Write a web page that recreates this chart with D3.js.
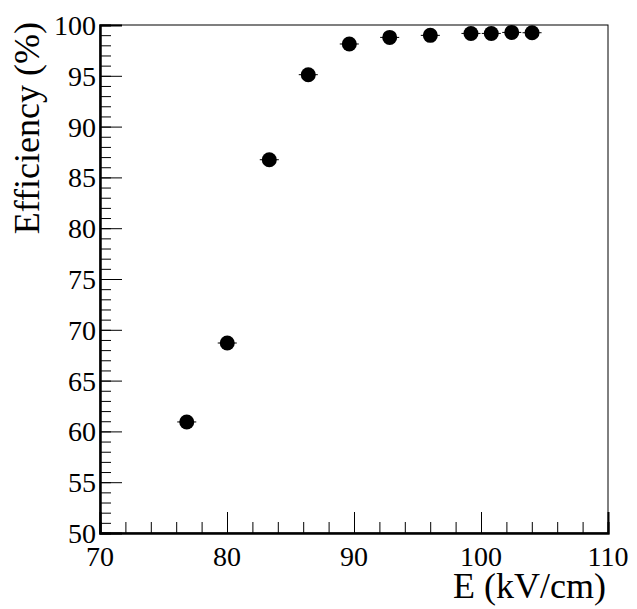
<!DOCTYPE html>
<html>
<head>
<meta charset="utf-8">
<script src="https://cdn.jsdelivr.net/npm/d3@7"></script>
<style>
  html, body { margin: 0; padding: 0; background: #fff; }
  svg { display: block; }
  svg text { font-family: 'Liberation Serif', 'Times New Roman', Times, serif; }
</style>
</head>
<body>
<svg id="chart"></svg>
<script>
// Measured field (kV/cm) and efficiency (%)
const fieldValues = [76.83, 80.02, 83.33, 86.40, 89.63, 92.81, 96.01, 99.21, 100.81, 102.42, 104.02];
const efficiencyValues = [60.93, 68.70, 86.74, 95.11, 98.13, 98.78, 98.98, 99.17, 99.17, 99.27, 99.24];
const fieldErrors = [0.75, 0.75, 0.75, 0.75, 0.75, 0.75, 0.75, 0.75, 0.75, 0.75, 0.75];
const xTickLabels = [70, 80, 90, 100, 110];
const yTickLabels = [50, 55, 60, 65, 70, 75, 80, 85, 90, 95, 100];

const width = 637, height = 609;
const margin = { left: 100, right: 29, top: 25, bottom: 76 };

const svg = d3.select('#chart')
  .attr('width', width)
  .attr('height', height);

const x = d3.scaleLinear().domain([70, 110]).range([margin.left, width - margin.right]);
const y = d3.scaleLinear().domain([50, 100]).range([height - margin.bottom, margin.top]);

// frame (top and right edges)
svg.append('rect')
  .attr('x', x(70))
  .attr('y', y(100))
  .attr('width', x(110) - x(70))
  .attr('height', y(50) - y(100))
  .attr('fill', 'none')
  .attr('stroke', '#000')
  .attr('stroke-width', 1);

// x axis: major ticks every 10, minor every 2, ticks pointing up
const xAxis = svg.append('g')
  .attr('transform', `translate(0,${y(50)})`)
  .call(d3.axisBottom(x).tickValues(d3.range(72, 110, 2)).tickSize(-11).tickFormat(''));
xAxis.append('g')
  .call(d3.axisBottom(x).tickValues(xTickLabels).tickSize(-21).tickFormat(''));
xAxis.selectAll('.domain').attr('stroke', '#000').attr('stroke-width', 2);
xAxis.selectAll('.tick line').attr('stroke', '#000').attr('stroke-width', 1);

svg.append('g')
  .selectAll('text')
  .data(xTickLabels)
  .join('text')
  .attr('x', d => x(d))
  .attr('y', y(50) + 33)
  .attr('text-anchor', 'middle')
  .attr('font-family', 'Liberation Serif')
  .attr('font-size', 28)
  .text(d => d);

// y axis: major ticks every 5, minor every 1, ticks pointing right
const yAxis = svg.append('g')
  .attr('transform', `translate(${x(70)},0)`)
  .call(d3.axisLeft(y).tickValues(d3.range(51, 100, 1)).tickSize(-11).tickFormat(''));
yAxis.append('g')
  .call(d3.axisLeft(y).tickValues(yTickLabels).tickSize(-22).tickFormat(''));
yAxis.selectAll('.domain').attr('stroke', '#000').attr('stroke-width', 2);
yAxis.selectAll('.tick line').attr('stroke', '#000').attr('stroke-width', 1);

svg.append('g')
  .selectAll('text')
  .data(yTickLabels)
  .join('text')
  .attr('x', x(70) - 4)
  .attr('y', d => y(d) + 10)
  .attr('text-anchor', 'end')
  .attr('font-family', 'Liberation Serif')
  .attr('font-size', 28)
  .text(d => d);

// axis titles
svg.append('text')
  .attr('x', 606)
  .attr('y', 598)
  .attr('text-anchor', 'end')
  .attr('font-family', 'Liberation Serif')
  .attr('font-size', 36)
  .text('E (kV/cm)');

svg.append('text')
  .attr('transform', `translate(39,22) rotate(-90)`)
  .attr('text-anchor', 'end')
  .attr('font-family', 'Liberation Serif')
  .attr('font-size', 36)
  .text('Efficiency (%)');

// data points with horizontal error bars
const points = fieldValues.map((v, i) => ({ e: v, eff: efficiencyValues[i], err: fieldErrors[i] }));

svg.append('g')
  .selectAll('line')
  .data(points)
  .join('line')
  .attr('x1', d => x(d.e - d.err))
  .attr('x2', d => x(d.e + d.err))
  .attr('y1', d => y(d.eff))
  .attr('y2', d => y(d.eff))
  .attr('stroke', '#000')
  .attr('stroke-width', 1);

svg.append('g')
  .selectAll('circle')
  .data(points)
  .join('circle')
  .attr('cx', d => x(d.e))
  .attr('cy', d => y(d.eff))
  .attr('r', 7.5)
  .attr('fill', '#000');
</script>
</body>
</html>
